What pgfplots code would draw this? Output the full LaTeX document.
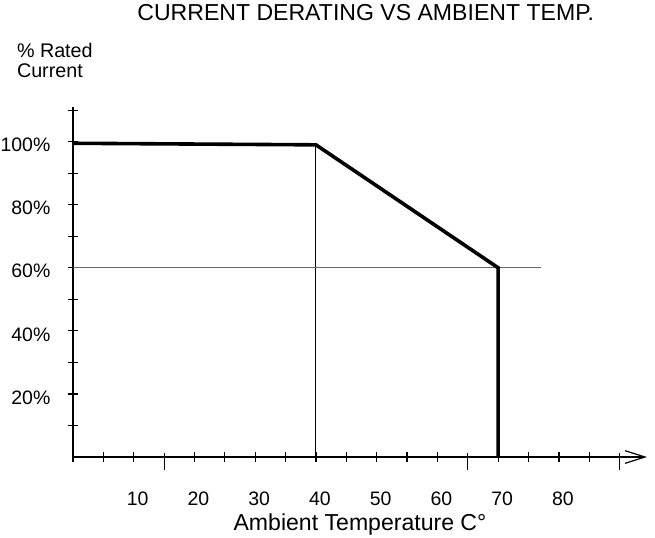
\documentclass[border=0pt]{standalone}
\usepackage{fontspec}
\setmainfont{Liberation Sans}
\usepackage{pgfplots}
\pgfplotsset{compat=1.18}
\usetikzlibrary{arrows.meta}
\begin{document}
\begin{tikzpicture}
\path[use as bounding box] (0,0) rectangle (491.25pt,402.75pt);
\begin{axis}[
  at={(54.75pt,60pt)}, anchor=south west,
  scale only axis, width=430.5pt, height=262.5pt,
  xmin=0, xmax=94.5, ymin=0, ymax=111,
  axis x line*=bottom, axis y line*=left,
  x axis line style={-{Straight Barb[length=15pt,width=9.5pt,line width=0.9pt]}},
  axis line style={line width=0.9pt},
  every tick/.style={black, line width=0.9pt},
  tick align=center,
  major tick length=7.2pt, minor tick length=7.2pt,
  xtick={10,20,30,40,50,60,70,80},
  xticklabels={10,20,30,40,50,60,70,80},
  minor xtick={0,5,25,35,45,55,75,85},
  extra x ticks={15,65,90},
  extra x tick labels={},
  extra x tick style={major tick length=12.75pt, tick style={yshift=-3.4pt}},
  ytick={20,40,60,80,100},
  yticklabels={20\%,40\%,60\%,80\%,100\%},
  minor ytick={10,30,50,70,90,110},
  every tick label/.append style={font=\fontsize{14.6}{17}\selectfont},
  xticklabel style={anchor=base, inner sep=0pt, yshift=-32.8pt, xshift=3pt},
  yticklabel style={anchor=east, inner sep=0pt, xshift=-13.2pt, yshift=-2.6pt},
  title={CURRENT DERATING VS AMBIENT TEMP.},
  title style={font=\fontsize{17.3}{20}\selectfont, at={(axis description cs:0.51,1.225)}, anchor=base, inner sep=0pt},
  xlabel={Ambient Temperature C°},
  xlabel style={font=\fontsize{17.3}{20}\selectfont, at={(axis description cs:0.5,-0.211)}, anchor=base, inner sep=0pt},
  ylabel={\% Rated\\Current},
  every axis y label/.style={font=\fontsize{14.8}{15}\selectfont, at={(axis description cs:-0.098,1.184)}, anchor=north west, align=left, inner sep=0pt},
  clip=false,
]
\addplot[black, line width=0.7pt] coordinates {(40,0) (40,99)};
\addplot[black!60, line width=0.9pt] coordinates {(0,60) (77,60)};
\addplot[black, line width=2.7pt] coordinates {(0,99.5) (40,99) (70,60) (70,0)};
\end{axis}
\end{tikzpicture}
\end{document}
